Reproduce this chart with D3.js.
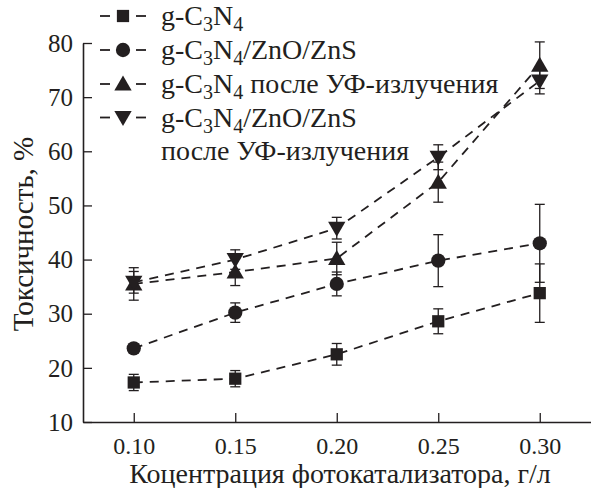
<!DOCTYPE html>
<html><head><meta charset="utf-8">
<script src="https://cdn.jsdelivr.net/npm/d3@7"></script>
<style>body{margin:0;background:#fff}svg{display:block}text{font-family:"Liberation Serif","Times New Roman",serif;fill:#231f20}</style>
</head><body>
<svg id="c" width="595" height="488"></svg>
<script>
const concentrations = [0.10, 0.15, 0.20, 0.25, 0.30];
const xTickLabels = ["0.10", "0.15", "0.20", "0.25", "0.30"];
const yTicks = [10, 20, 30, 40, 50, 60, 70, 80];
const gc3n4 = [17.3, 18.0, 22.5, 28.6, 33.8];
const gc3n4Err = [1.5, 1.5, 2.0, 2.3, 5.4];
const composite = [23.6, 30.2, 35.5, 39.8, 43.0];
const compositeErr = [0.8, 1.8, 2.2, 4.8, 7.2];
const gc3n4UV = [35.5, 37.7, 40.2, 54.3, 75.9];
const gc3n4UVErr = [3.0, 2.5, 3.0, 3.7, 4.3];
const compositeUV = [35.8, 40.0, 45.8, 58.9, 73.0];
const compositeUVErr = [2.0, 1.8, 2.0, 2.3, 2.4];

const series = [
  {vals: gc3n4, err: gc3n4Err, sym: d3.symbolSquare, size: 150, rot: 0},
  {vals: composite, err: compositeErr, sym: d3.symbolCircle, size: 160, rot: 0},
  {vals: gc3n4UV, err: gc3n4UVErr, sym: d3.symbolTriangle, size: 130, rot: 0},
  {vals: compositeUV, err: compositeUVErr, sym: d3.symbolTriangle, size: 130, rot: 180}
];

const svg = d3.select("#c");
const ink = "#231f20";
const x = d3.scaleLinear().domain([0.075, 0.325]).range([83, 590.5]);
const y = d3.scaleLinear().domain([10, 80]).range([422, 43]);

// axes
const xAxis = d3.axisBottom(x).tickValues(concentrations).tickSizeInner(-9).tickSizeOuter(0)
  .tickFormat((d, i) => xTickLabels[i]).tickPadding(15);
const gx = svg.append("g").attr("transform", "translate(0,422)").call(xAxis);
const yAxis = d3.axisLeft(y).tickValues(yTicks).tickSizeInner(-9).tickSizeOuter(0).tickPadding(10);
const gy = svg.append("g").attr("transform", "translate(83,0)").call(yAxis);
[gx, gy].forEach(g => {
  g.select(".domain").attr("stroke", ink).attr("stroke-width", 1.6);
  g.selectAll(".tick line").attr("stroke", ink).attr("stroke-width", 1.3);
  g.selectAll(".tick text").style("font-family", '"Liberation Serif", serif').style("font-size", "24px").attr("fill", ink);
});
gy.selectAll(".tick text").style("font-size", "25px").attr("dy", "0.33em");

svg.append("text").attr("x", 340).attr("y", 483).attr("text-anchor", "middle")
  .style("font-size", "28px").text("Коцентрация фотокатализатора, г/л");
svg.append("text").attr("transform", "translate(33,234) rotate(-90)").attr("text-anchor", "middle")
  .style("font-size", "29px").text("Токсичность, %");

// lines
const line = d3.line().x((d, i) => x(concentrations[i])).y(d => y(d));
series.forEach(s => {
  svg.append("path").datum(s.vals).attr("d", line).attr("fill", "none")
    .attr("stroke", ink).attr("stroke-width", 1.8).attr("stroke-dasharray", "9,7");
});
// error bars
series.forEach(s => {
  const g = svg.append("g").attr("stroke", ink).attr("stroke-width", 1.3);
  s.vals.forEach((v, i) => {
    const cx = x(concentrations[i]);
    const t = y(v + s.err[i]), b = y(v - s.err[i]);
    g.append("line").attr("x1", cx).attr("x2", cx).attr("y1", t).attr("y2", b);
    g.append("line").attr("x1", cx - 5).attr("x2", cx + 5).attr("y1", t).attr("y2", t);
    g.append("line").attr("x1", cx - 5).attr("x2", cx + 5).attr("y1", b).attr("y2", b);
  });
});
// markers
series.forEach(s => {
  svg.append("g").selectAll("path").data(s.vals).join("path")
    .attr("d", d3.symbol().type(s.sym).size(s.size))
    .attr("transform", (d, i) => `translate(${x(concentrations[i])},${y(d) + (s.sym === d3.symbolTriangle ? (s.rot ? -1.5 : 1.5) : 0)}) rotate(${s.rot})`)
    .attr("fill", ink);
});

// legend
const legendRows = [
  {idx: 0, parts: [["g-C", 0], ["3", 1], ["N", 0], ["4", 1]]},
  {idx: 1, parts: [["g-C", 0], ["3", 1], ["N", 0], ["4", 1], ["/ZnO/ZnS", 0]]},
  {idx: 2, parts: [["g-C", 0], ["3", 1], ["N", 0], ["4", 1], [" после УФ-излучения", 0]]},
  {idx: 3, parts: [["g-C", 0], ["3", 1], ["N", 0], ["4", 1], ["/ZnO/ZnS", 0]]}
];
const rowY = [16, 50, 84, 117.5, 151];
const lg = svg.append("g");
legendRows.forEach((r, k) => {
  const cy = rowY[k];
  const s = series[r.idx];
  lg.append("line").attr("x1", 100).attr("x2", 110).attr("y1", cy).attr("y2", cy).attr("stroke", ink).attr("stroke-width", 1.8);
  lg.append("line").attr("x1", 136).attr("x2", 146).attr("y1", cy).attr("y2", cy).attr("stroke", ink).attr("stroke-width", 1.8);
  lg.append("path").attr("d", d3.symbol().type(s.sym).size(s.size))
    .attr("transform", `translate(123,${cy + (s.sym === d3.symbolTriangle ? (s.rot ? -1.5 : 1.5) : 0)}) rotate(${s.rot})`).attr("fill", ink);
  const t = lg.append("text").attr("x", 161).attr("y", cy + 9).style("font-size", "28px");
  r.parts.forEach(([txt, sub]) => {
    t.append("tspan").text(txt).attr("dy", sub ? 6 : null).style("font-size", sub ? "20px" : null)
      .call(sp => { if (!sub && txt !== "g-C") sp.attr("dy", -6); });
  });
});
lg.append("text").attr("x", 161).attr("y", rowY[4] + 9).style("font-size", "28px").text("после УФ-излучения");
</script>
</body></html>
